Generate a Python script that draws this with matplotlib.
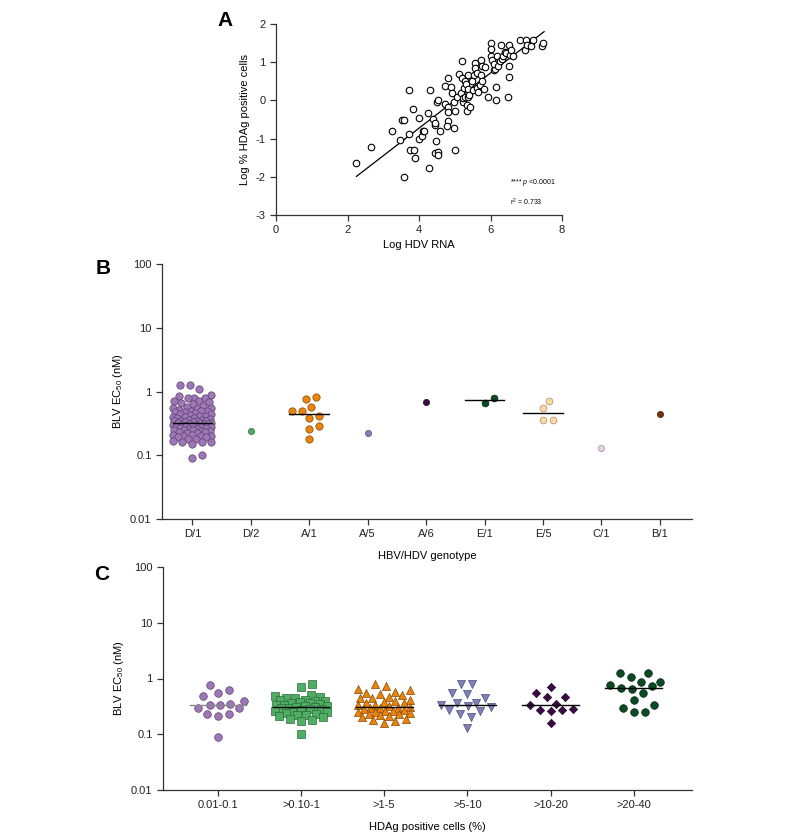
import numpy as np
import matplotlib
matplotlib.use("Agg")
import matplotlib.pyplot as plt

plt.rcParams['font.family'] = ['Liberation Sans', 'DejaVu Sans']
plt.rcParams['mathtext.fontset'] = 'custom'
plt.rcParams['mathtext.rm'] = 'Liberation Sans'
plt.rcParams['mathtext.it'] = 'Liberation Sans:italic'
plt.rcParams['font.size'] = 8

# ---- panel A: log HDV RNA vs log % HDAg positive cells
rna = [2.25, 2.65, 3.24, 3.47, 3.52, 3.58, 3.71, 3.72, 3.75, 3.85, 3.88, 3.59, 3.82, 4.0, 4.0,
       4.07, 4.12, 4.14, 4.26, 4.32, 4.29, 4.39, 4.44, 4.45, 4.46, 4.51, 4.53, 4.47, 4.53, 4.53,
       4.58, 4.73, 4.74, 4.82, 4.80, 4.81, 4.82, 4.78, 4.89, 4.92, 4.98, 4.97, 5.01, 5.0, 5.07,
       5.13, 5.18, 5.20, 5.20, 5.25, 5.22, 5.23, 5.28, 5.30, 5.32, 5.35, 5.35, 5.37, 5.37, 5.38,
       5.40, 5.43, 5.49, 5.51, 5.53, 5.56, 5.57, 5.61, 5.61, 5.65, 5.70, 5.73, 5.74, 5.76, 5.77,
       5.81, 5.84, 5.92, 6.0, 6.01, 6.02, 6.05, 6.10, 6.12, 6.09, 6.14, 6.16, 6.19, 6.21, 6.26,
       6.30, 6.32, 6.36, 6.40, 6.42, 6.48, 6.51, 6.52, 6.52, 6.55, 6.58, 6.64, 6.82, 6.96, 7.00,
       7.02, 7.12, 7.19, 7.44, 7.47]
hdag = [-1.64, -1.22, -0.80, -1.04, -0.52, -0.51, 0.27, -0.87, -1.30, -1.30, -1.52, -2.00, -0.23, -0.47, -1.01,
        -0.94, -0.81, -0.79, -0.32, 0.28, -1.77, -0.48, -0.64, -0.58, -1.38, -0.03, 0.02, -1.05, -1.36, -1.44,
        -0.81, 0.37, -0.10, 0.58, -0.17, -0.31, -0.55, -0.68, 0.35, 0.19, -0.03, -0.73, -0.28, -1.30, 0.10,
        0.70, 0.19, 1.03, 0.59, 0.33, -0.03, 0.05, 0.50, 0.10, 0.44, -0.11, -0.28, 0.67, 0.31, 0.08,
        0.15, -0.16, 0.52, 0.28, 0.67, 0.98, 0.85, 0.72, 0.32, 0.22, 0.41, 1.07, 0.66, 0.52, 0.89,
        0.30, 0.87, 0.10, 1.49, 1.35, 1.15, 1.05, 0.79, 0.83, 0.94, 0.35, 0.0, 1.15, 0.89, 1.02,
        1.44, 1.09, 1.15, 1.26, 1.24, 0.10, 0.60, 0.89, 1.45, 1.20, 1.33, 1.15, 1.57, 1.31, 1.57,
        1.45, 1.43, 1.57, 1.43, 1.50]
fit_x = [2.25, 7.5]
fit_y = [-1.99, 1.80]

# ---- panel B: EC50 by HBV/HDV genotype
genotypes = ['D/1', 'D/2', 'A/1', 'A/5', 'A/6', 'E/1', 'E/5', 'C/1', 'B/1']
ec50_D1 = [1.27, 1.25, 1.08, 0.87, 0.85, 0.80, 0.79, 0.78, 0.72, 0.70, 0.68, 0.66, 0.63, 0.60, 0.58,
           0.56, 0.55, 0.53, 0.52, 0.50, 0.50, 0.49, 0.48, 0.47, 0.46, 0.45, 0.44, 0.43, 0.42, 0.41,
           0.40, 0.40, 0.39, 0.38, 0.37, 0.36, 0.36, 0.35, 0.35, 0.34, 0.34, 0.33, 0.33, 0.32, 0.32,
           0.32, 0.31, 0.31, 0.31, 0.30, 0.30, 0.30, 0.29, 0.29, 0.28, 0.28, 0.28, 0.27, 0.27, 0.26,
           0.26, 0.25, 0.25, 0.25, 0.24, 0.24, 0.23, 0.23, 0.22, 0.22, 0.21, 0.21, 0.20, 0.20, 0.20,
           0.19, 0.19, 0.18, 0.18, 0.17, 0.16, 0.16, 0.16, 0.15, 0.10, 0.09]
ec50_D2 = [0.24]
ec50_A1 = [0.81, 0.77, 0.57, 0.50, 0.49, 0.41, 0.38, 0.29, 0.26, 0.18]
ec50_A5 = [0.22]
ec50_A6 = [0.69]
ec50_E1 = [0.79, 0.66]
ec50_E5 = [0.72, 0.55, 0.36, 0.36]
ec50_C1 = [0.128]
ec50_B1 = [0.45]
geno_values = [ec50_D1, ec50_D2, ec50_A1, ec50_A5, ec50_A6, ec50_E1, ec50_E5, ec50_C1, ec50_B1]
geno_face = ['#9E78B6', '#4FAE63', '#E8830E', '#7F7EB8', '#3B0A45', '#0B4A22', '#FDD9A5', '#E6D2E6', '#7B3306']
geno_edge = ['#5B3F6E', '#2E6B3B', '#8A4A00', '#4E4E80', '#1E0524', '#052611', '#A8896A', '#9A8A9A', '#3E1A03']

# ---- panel C: EC50 by % HDAg positive cells
hdag_bins = ['0.01-0.1', '>0.10-1', '>1-5', '>5-10', '>10-20', '>20-40']
ec50_b1 = [0.77, 0.63, 0.55, 0.49, 0.40, 0.35, 0.34, 0.33, 0.30, 0.29, 0.23, 0.23, 0.21, 0.09]
ec50_b2 = [0.80, 0.69, 0.50, 0.48, 0.47, 0.45, 0.44, 0.42, 0.41, 0.40, 0.40, 0.38, 0.37, 0.36, 0.35,
           0.34, 0.33, 0.32, 0.32, 0.31, 0.31, 0.30, 0.29, 0.28, 0.28, 0.27, 0.26, 0.25, 0.25, 0.24,
           0.23, 0.22, 0.22, 0.21, 0.20, 0.19, 0.18, 0.17, 0.10]
ec50_b3 = [0.80, 0.72, 0.65, 0.62, 0.57, 0.55, 0.52, 0.50, 0.47, 0.45, 0.44, 0.42, 0.40, 0.38, 0.37,
           0.36, 0.34, 0.33, 0.32, 0.31, 0.30, 0.30, 0.29, 0.28, 0.27, 0.26, 0.26, 0.25, 0.25, 0.24,
           0.23, 0.23, 0.22, 0.21, 0.20, 0.19, 0.18, 0.17, 0.16]
ec50_b4 = [0.81, 0.79, 0.54, 0.52, 0.44, 0.36, 0.36, 0.33, 0.32, 0.31, 0.27, 0.26, 0.23, 0.20, 0.13]
ec50_b5 = [0.71, 0.54, 0.47, 0.46, 0.35, 0.33, 0.28, 0.27, 0.27, 0.26, 0.16]
ec50_b6 = [1.23, 1.23, 1.05, 0.86, 0.85, 0.78, 0.73, 0.67, 0.66, 0.56, 0.41, 0.34, 0.29, 0.25, 0.25]
bin_values = [ec50_b1, ec50_b2, ec50_b3, ec50_b4, ec50_b5, ec50_b6]
bin_face = ['#9E78B6', '#4FAE63', '#E8830E', '#8080B8', '#3B0A45', '#0B4A22']
bin_edge = ['#5B3F6E', '#2E6B3B', '#8A4A00', '#4E4E80', '#1E0524', '#052611']
bin_marker = ['o', 's', '^', 'v', 'D', 'o']
bin_size = [30, 30, 34, 34, 18, 30]
bin_line = ['#888888', 'black', 'black', 'black', 'black', 'black']

DPI = 100
SPINE = '#333333'


def swarm(ax, x0, vals, dist_px, half_px):
    """greedy beeswarm in pixel space, kept inside +-half_px (overlap allowed there)"""
    ys = ax.transData.transform(np.column_stack([np.full(len(vals), x0), vals]))[:, 1]
    order = np.argsort(ys)
    placed = []
    offs = np.zeros(len(vals))
    step = 1.0
    cands = [0.0]
    k = 1
    while k * step <= half_px:
        cands += [k * step, -k * step]
        k += 1
    for i in order:
        best, best_d = 0.0, -1.0
        for c in cands:
            d = min([np.hypot(c - px, ys[i] - py) for px, py in placed] or [1e9])
            if d >= dist_px:
                best = c
                break
            if d > best_d + 0.01:
                best, best_d = c, d
        offs[i] = best
        placed.append((best, ys[i]))
    x_px = ax.transData.transform([[x0, 1], [x0 + 1, 1]])[:, 0]
    return x0 + offs / (x_px[1] - x_px[0])


def style_axes(ax):
    for s in ['top', 'right']:
        ax.spines[s].set_visible(False)
    for s in ['left', 'bottom']:
        ax.spines[s].set_color(SPINE)
        ax.spines[s].set_linewidth(0.9)
    ax.tick_params(direction='out', length=4, width=0.9, color=SPINE, labelcolor='#222222', labelsize=8)


def dot_panel(ax, labels, values, faces, edges, markers, lines, sizes, xlim, dist_px, half_px):
    ax.set_yscale('log')
    ax.set_xlim(*xlim)
    ax.set_ylim(0.01, 100)
    ax.set_yticks([0.01, 0.1, 1, 10, 100])
    ax.set_yticklabels(['0.01', '0.1', '1', '10', '100'])
    ax.yaxis.set_minor_locator(matplotlib.ticker.NullLocator())
    ax.set_xticks(range(len(labels)))
    ax.set_xticklabels(labels)
    for i, vals in enumerate(values):
        xs = swarm(ax, i, vals, dist_px, half_px)
        ax.scatter(xs, vals, s=sizes[i], c=faces[i], edgecolors=edges[i], linewidths=0.5,
                   marker=markers[i], zorder=2)
        if len(vals) > 1:
            ax.plot([i - 0.34, i + 0.34], [np.median(vals)] * 2, color=lines[i], lw=1.0, zorder=3)
    style_axes(ax)


fig = plt.figure(figsize=(7.87, 8.4), dpi=DPI)

# panel A
axA = fig.add_axes([276 / 787, 1 - 215 / 840, 286 / 787, 191 / 840])
axA.scatter(rna, hdag, s=22, facecolors='white', edgecolors='black', linewidths=0.8, zorder=2)
axA.plot(fit_x, fit_y, color='black', lw=0.9, zorder=1)
axA.set_xlim(0, 8)
axA.set_ylim(-3, 2)
axA.set_xticks([0, 2, 4, 6, 8])
axA.set_yticks([-3, -2, -1, 0, 1, 2])
axA.set_yticklabels(['-3', '-2', '-1', '0', '1', '2'])
axA.set_xlabel('Log HDV RNA', labelpad=3)
axA.set_ylabel('Log % HDAg positive cells', labelpad=4)
style_axes(axA)
axA.text(6.55, -2.16, r'**** $\it{p}$ <0.0001', fontsize=5, va='center')
axA.text(6.55, -2.66, r'r$^2$ = 0.733', fontsize=5, va='center')
fig.text(225 / 787, 1 - 20 / 840, 'A', fontsize=15, fontweight='bold', ha='center', va='center')

# panel B
axB = fig.add_axes([162 / 787, 1 - 519 / 840, 530 / 787, 255 / 840])
dot_panel(axB, genotypes, geno_values, geno_face, geno_edge, ['o'] * 9,
          ['black'] * 9, [28, 20, 28, 20, 20, 24, 24, 20, 20], (-0.52, 8.55), 9.5, 19)
axB.set_xlabel('HBV/HDV genotype', labelpad=8)
axB.set_ylabel(r'BLV EC$_{50}$ (nM)', labelpad=4)
fig.text(103 / 787, 1 - 268 / 840, 'B', fontsize=15, fontweight='bold', ha='center', va='center')

# panel C
axC = fig.add_axes([163 / 787, 1 - 790 / 840, 529 / 787, 223 / 840])
dot_panel(axC, hdag_bins, bin_values, bin_face, bin_edge, bin_marker, bin_line, bin_size,
          (-0.66, 5.7), 11, 26)
axC.set_xlabel('HDAg positive cells (%)', labelpad=8)
axC.set_ylabel(r'BLV EC$_{50}$ (nM)', labelpad=4)
fig.text(102 / 787, 1 - 575 / 840, 'C', fontsize=15, fontweight='bold', ha='center', va='center')

fig.savefig('out.png', dpi=DPI)
